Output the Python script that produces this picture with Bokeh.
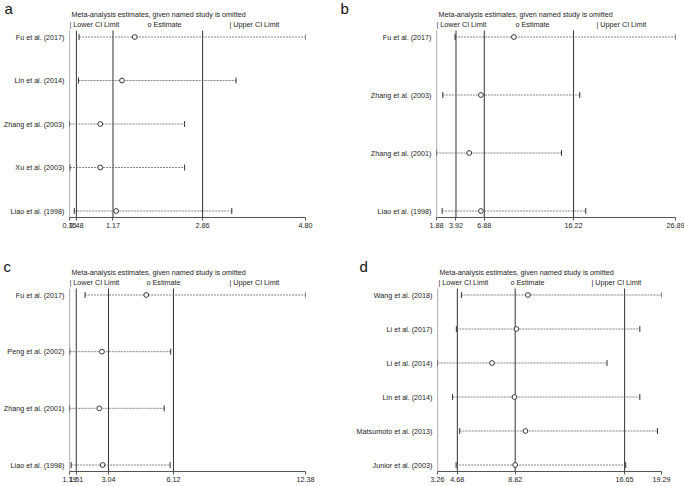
import numpy as np
from bokeh.plotting import figure
from bokeh.models import (Range1d, FixedTicker, NumeralTickFormatter, Title,
                          ColumnDataSource)
from bokeh.core.properties import value
from bokeh.layouts import column, row
from bokeh.embed import file_html
from bokeh.resources import INLINE

FONT = "Liberation Sans"
FS = "7.2px"
TXT = "#222222"

# ---------------- data ----------------
a_studies = ["Fu et al. (2017)", "Lin et al. (2014)", "Zhang et al. (2003)",
             "Xu et al. (2003)", "Liao et al. (1998)"]
a_est = [1.58, 1.34, 0.93, 0.93, 1.23]
a_lower = [0.53, 0.52, 0.35, 0.36, 0.44]
a_upper = [4.80, 3.49, 2.52, 2.52, 3.41]
a_overall = [0.48, 1.17, 2.86]

b_studies = ["Fu et al. (2017)", "Zhang et al. (2003)", "Zhang et al. (2001)",
             "Liao et al. (1998)"]
b_est = [9.98, 6.53, 5.31, 6.53]
b_lower = [3.82, 2.54, 1.88, 2.47]
b_upper = [26.89, 16.87, 14.96, 17.50]
b_overall = [3.92, 6.88, 16.22]

c_studies = ["Fu et al. (2017)", "Peng et al. (2002)", "Zhang et al. (2001)",
             "Liao et al. (1998)"]
c_est = [4.83, 2.73, 2.60, 2.76]
c_lower = [1.93, 1.20, 1.19, 1.27]
c_upper = [12.38, 5.99, 5.68, 5.96]
c_overall = [1.51, 3.04, 6.12]

d_studies = ["Wang et al. (2018)", "Li et al. (2017)", "Li et al. (2014)",
             "Lin et al. (2014)", "Matsumoto et al. (2013)", "Junior et al. (2003)"]
d_est = [9.73, 8.91, 7.16, 8.77, 9.55, 8.82]
d_lower = [4.97, 4.61, 3.26, 4.34, 4.85, 4.59]
d_upper = [19.29, 17.74, 15.39, 17.74, 19.00, 16.73]
d_overall = [4.68, 8.82, 16.65]

TITLE = "Meta-analysis estimates, given named study is omitted"
LEG = ["| Lower CI Limit", "o Estimate", "| Upper CI Limit"]

HEADER_PX = 20   # space inside the frame above the study rows
PAD_PX = 6.5     # gap between outer rows and line ends


def make_panel(letter, studies, est, lower, upper, overall, width, height,
               bl, br, bt, bb, leg_x, letter_x):
    n = len(studies)
    frame_h = height - bt - bb
    spacing = (frame_h - HEADER_PX - 2 * PAD_PX) / (n - 1)
    pad = PAD_PX / spacing
    top = -(PAD_PX + HEADER_PX) / spacing
    xmin, xmax = min(lower), max(upper)
    ybot, ytop = n - 1 + pad, -pad

    p = figure(width=width, height=height, output_backend="svg", toolbar_location=None,
               x_range=Range1d(xmin, xmax), y_range=Range1d(ybot, top),
               min_border_left=bl, min_border_right=br, min_border_top=bt,
               min_border_bottom=bb)
    p.grid.visible = False
    p.outline_line_color = None
    p.title.text = ""

    xa = p.xaxis[0]
    xa.ticker = FixedTicker(ticks=[xmin] + list(overall) + [xmax])
    xa.formatter = NumeralTickFormatter(format="0.00")
    xa.minor_tick_line_color = None
    xa.major_tick_out = 3
    xa.major_tick_in = 0
    xa.major_label_standoff = 2
    xa.axis_line_color = "#555555"
    xa.major_tick_line_color = "#555555"
    xa.major_label_text_font = FONT
    xa.major_label_text_font_size = FS
    xa.major_label_text_color = TXT

    ya = p.yaxis[0]
    ya.ticker = FixedTicker(ticks=list(range(n)))
    ya.major_label_overrides = {i: s for i, s in enumerate(studies)}
    ya.minor_tick_line_color = None
    ya.major_tick_line_color = None
    ya.major_tick_out = 0
    ya.major_tick_in = 0
    ya.major_label_standoff = 5
    ya.axis_line_color = None
    ya.major_label_text_font = FONT
    ya.major_label_text_font_size = FS
    ya.major_label_text_color = TXT

    # left boundary line and overall estimate / CI lines
    p.segment(x0=[xmin], y0=[ybot], x1=[xmin], y1=[ytop], line_color="#777777",
              line_width=1.2)
    p.segment(x0=list(overall), y0=[ybot] * 3, x1=list(overall), y1=[ytop] * 3,
              line_color="#333333", line_width=1)

    src = ColumnDataSource(dict(y=list(range(n)), est=est, lo=lower, hi=upper))
    p.segment(x0="lo", y0="y", x1="hi", y1="y", source=src, line_color="#666666",
              line_width=0.8, line_dash="2 1")
    for col in ("lo", "hi"):
        p.scatter(x=col, y="y", source=src, marker="dash", angle=np.pi / 2, size=6,
                  line_color="#333333", line_width=1)
    p.scatter(x="est", y="y", source=src, marker="circle", size=4.8,
              fill_color="white", line_color="#222222", line_width=0.9)

    # header: title and legend row, anchored to the top-left of the study area
    hdr = ColumnDataSource(dict(
        x=[xmin] * 4, y=[ytop] * 4, text=[TITLE] + LEG,
        xo=[2] + list(leg_x), yo=[-16, -6, -6, -6]))
    p.text(x="x", y="y", text="text", x_offset="xo", y_offset="yo", source=hdr,
           text_font=value(FONT), text_font_size=value(FS), text_color=TXT,
           text_baseline="middle", text_align="left")

    # panel letter
    p.add_layout(Title(text=letter, align="left", offset=letter_x - bl, standoff=-12,
                       text_font=FONT, text_font_size="15px", text_font_style="normal",
                       text_color="#111111"), "above")
    return p


H1, H2 = 243, 242
W1, W2 = 340, 344

pa = make_panel("a", a_studies, a_est, a_lower, a_upper, a_overall, W1, H1,
                67, 35, 10, 26, [0, 78, 160], 2)
pb = make_panel("b", b_studies, b_est, b_lower, b_upper, b_overall, W2, H1,
                96, 9, 10, 26, [0, 79, 160], 0)
pc = make_panel("c", c_studies, c_est, c_lower, c_upper, c_overall, W1, H2,
                67, 35, 25, 14, [0, 77, 160], 1)
pd = make_panel("d", d_studies, d_est, d_lower, d_upper, d_overall, W2, H2,
                97, 23, 25, 14, [1, 73, 154], 19)

layout = column(row(pa, pb), row(pc, pd))
open("out.html", "w").write(file_html(layout, INLINE))
